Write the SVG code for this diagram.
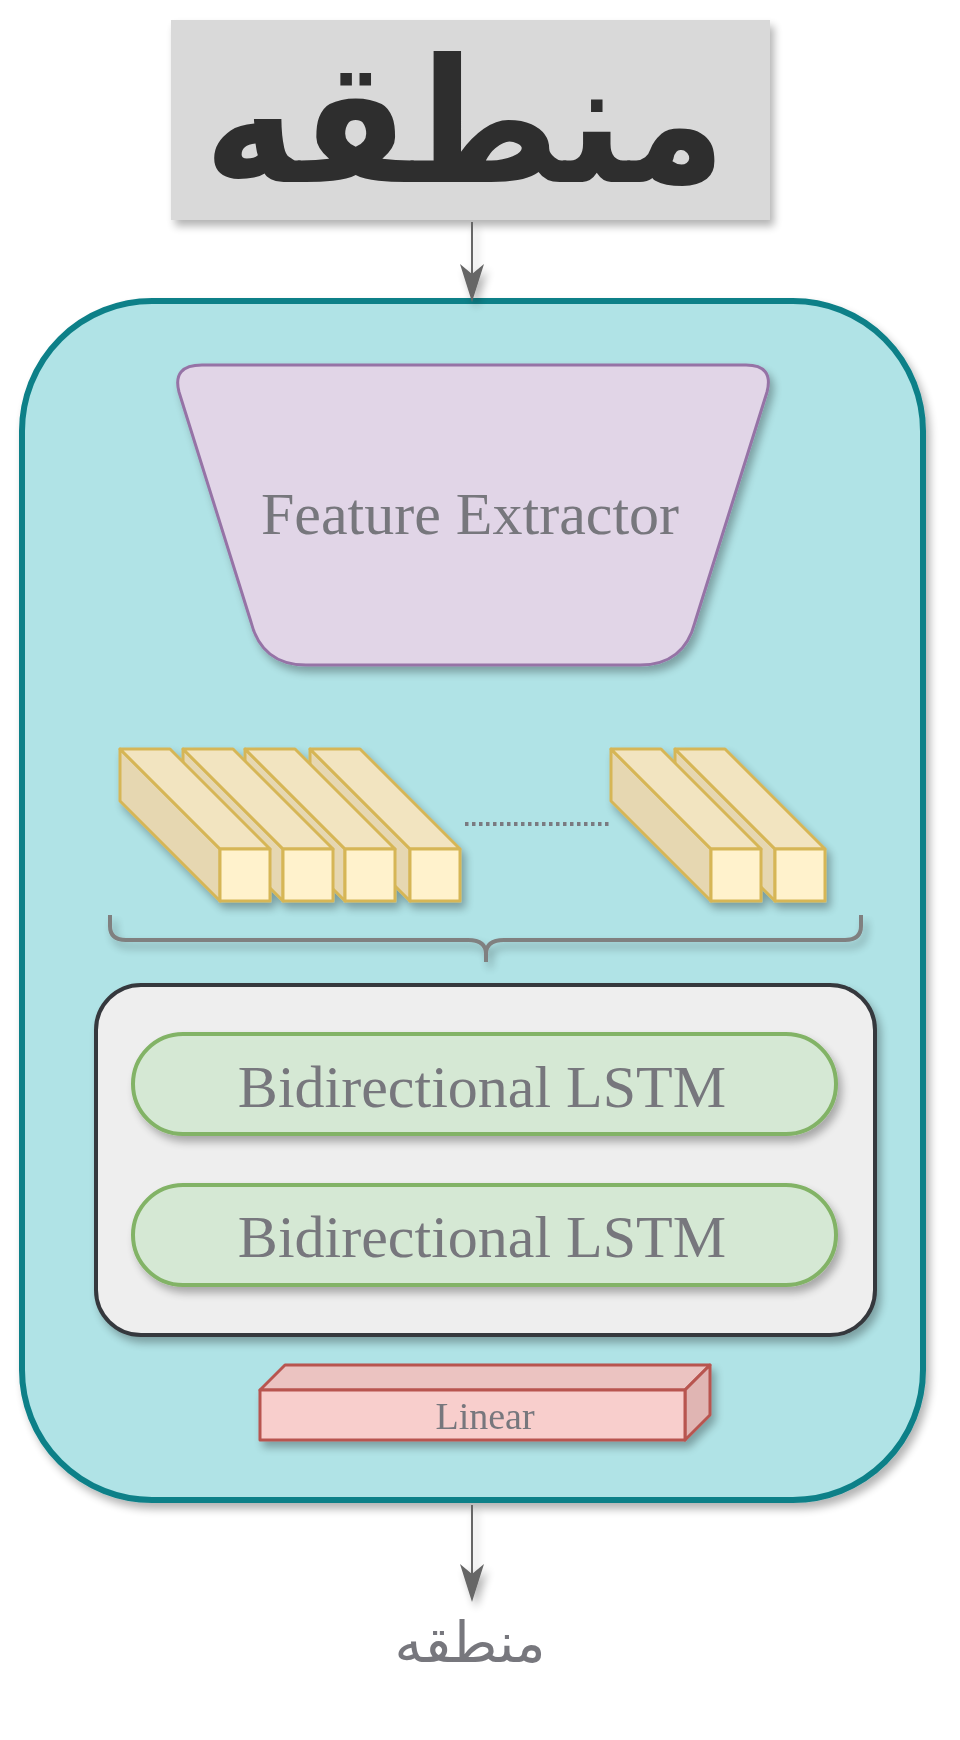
<svg xmlns="http://www.w3.org/2000/svg" xmlns:xlink="http://www.w3.org/1999/xlink" width="960" height="1740" viewBox="0 0 960 1740">
  <style>
    .lbl { font-family: "Liberation Serif", "Times New Roman", serif; fill: #77777d; text-anchor: middle; }
    .bar-front { fill: #fff2cc; }
    .bar-top { fill: #f2e4c0; }
    .bar-side { fill: #e6d7b1; }
    .bar { stroke: #d6b656; stroke-width: 3; stroke-linejoin: round; }
    .pill { fill: #d5e8d4; stroke: #82b366; stroke-width: 4; }
    .conn { stroke: #666666; stroke-width: 2; fill: none; }
  </style>
  <defs>
    <filter id="sh" x="-10%" y="-10%" width="130%" height="140%">
      <feGaussianBlur in="SourceAlpha" stdDeviation="4"/>
      <feOffset dx="4" dy="6" result="b"/>
      <feComponentTransfer><feFuncA type="linear" slope="0.3"/></feComponentTransfer>
      <feMerge><feMergeNode/><feMergeNode in="SourceGraphic"/></feMerge>
    </filter>
    <filter id="shc" filterUnits="userSpaceOnUse" x="0" y="0" width="960" height="1740">
      <feGaussianBlur in="SourceAlpha" stdDeviation="4"/>
      <feOffset dx="4" dy="6" result="b"/>
      <feComponentTransfer><feFuncA type="linear" slope="0.3"/></feComponentTransfer>
      <feMerge><feMergeNode/><feMergeNode in="SourceGraphic"/></feMerge>
    </filter>
    <marker id="arr" markerUnits="userSpaceOnUse" viewBox="0 -14 40 28" markerWidth="40" markerHeight="28" refX="28" refY="0" orient="auto">
      <path d="M0,-12 L38,0 L0,12 L10,0 Z" fill="#666666"/>
    </marker>
    <g id="bar" class="bar">
      <polygon class="bar-side" points="0,0 0,52 -100,-48 -100,-100"/>
      <polygon class="bar-top" points="0,0 50,0 -50,-100 -100,-100"/>
      <rect class="bar-front" x="0" y="0" width="50" height="52"/>
    </g>
  </defs>

  <rect width="960" height="1740" fill="#ffffff"/>

  <g id="input-image" filter="url(#sh)">
    <rect x="171" y="20" width="599" height="200" fill="#d9d9d9"/>
    <text x="465" y="182" font-family="DejaVu Sans, sans-serif" font-weight="bold" font-size="172" fill="#2e2e2e" text-anchor="middle" textLength="522" lengthAdjust="spacingAndGlyphs">منطقه</text>
  </g>

  <g id="model" filter="url(#sh)">
    <rect x="22" y="301" width="901" height="1199" rx="130" ry="130" fill="#b0e3e6" stroke="#0e8088" stroke-width="6"/>
  </g>

  <g id="feature-extractor" filter="url(#sh)">
    <path d="M202,365 L746,365 Q774,365 767,392 L695,622 Q684,665 640,665 L306,665 Q262,665 251,622 L179,392 Q172,365 202,365 Z" fill="#e1d5e7" stroke="#9673a6" stroke-width="3"/>
    <text class="lbl" x="470" y="534" font-size="60">Feature Extractor</text>
  </g>

  <g id="feature-columns" filter="url(#sh)">
    <use xlink:href="#bar" href="#bar" x="410" y="849"/>
    <use xlink:href="#bar" href="#bar" x="345" y="849"/>
    <use xlink:href="#bar" href="#bar" x="283" y="849"/>
    <use xlink:href="#bar" href="#bar" x="220" y="849"/>
    <use xlink:href="#bar" href="#bar" x="775" y="849"/>
    <use xlink:href="#bar" href="#bar" x="711" y="849"/>
  </g>

  <g id="ellipsis">
    <line x1="465" y1="824" x2="610" y2="824" stroke="#7a7a80" stroke-width="4" stroke-dasharray="3.5 3.5"/>
  </g>

  <g id="brace" filter="url(#sh)">
    <path d="M110,915 L110,926 Q110,940 126,940 L468,940 Q486,940 486,954 L486,962 M861,915 L861,926 Q861,940 845,940 L504,940 Q486,940 486,954" fill="none" stroke="#808080" stroke-width="4"/>
  </g>

  <g id="lstm-stack" filter="url(#sh)">
    <rect x="96" y="985" width="779" height="350" rx="45" ry="45" fill="#eeeeee" stroke="#36393d" stroke-width="4"/>
  </g>

  <g id="lstm-1" filter="url(#sh)">
    <rect class="pill" x="133" y="1034" width="703" height="100" rx="50" ry="50"/>
    <text class="lbl" x="482" y="1107" font-size="60">Bidirectional LSTM</text>
  </g>

  <g id="lstm-2" filter="url(#sh)">
    <rect class="pill" x="133" y="1185" width="703" height="100" rx="50" ry="50"/>
    <text class="lbl" x="482" y="1257" font-size="60">Bidirectional LSTM</text>
  </g>

  <g id="linear" filter="url(#sh)" stroke="#b85450" stroke-width="3" stroke-linejoin="round">
    <polygon points="260,1390 285,1365 710,1365 685,1390" fill="#ebc3c1"/>
    <polygon points="685,1390 710,1365 710,1415 685,1440" fill="#e0b5b3"/>
    <rect x="260" y="1390" width="425" height="50" fill="#f8cecc"/>
    <text class="lbl" x="485" y="1429" font-size="38" stroke="none">Linear</text>
  </g>

  <g id="output-label">
    <text x="470" y="1662" font-family="DejaVu Sans, sans-serif" font-size="56" fill="#77777d" text-anchor="middle">منطقه</text>
  </g>

  <g id="connectors" filter="url(#shc)">
    <line class="conn" x1="472" y1="222" x2="472" y2="292" marker-end="url(#arr)"/>
    <line class="conn" x1="472" y1="1505" x2="472" y2="1592" marker-end="url(#arr)"/>
  </g>
</svg>
